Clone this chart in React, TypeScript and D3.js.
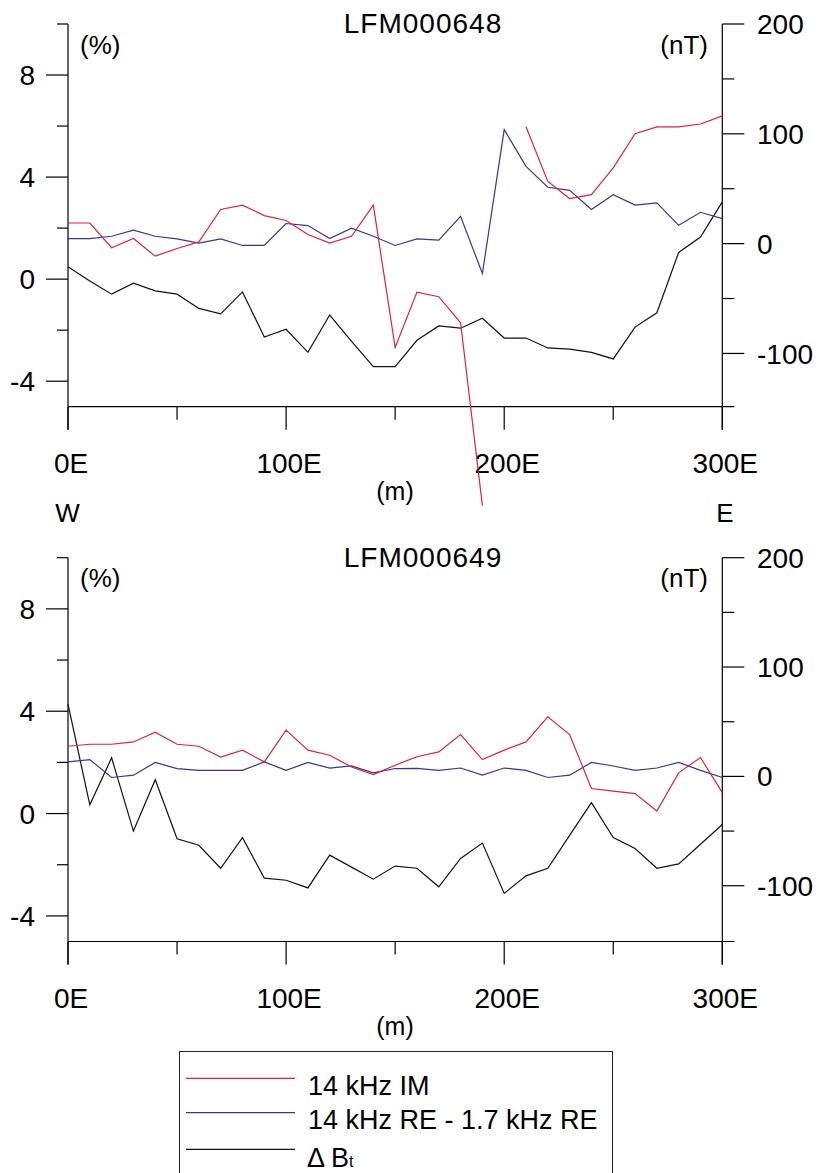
import React from "react";
import * as d3 from "d3";

// Station positions (m)
const stations = [0, 10, 20, 30, 40, 50, 60, 70, 80, 90, 100, 110, 120, 130, 140, 150, 160, 170, 180, 190, 200, 210, 220, 230, 240, 250, 260, 270, 280, 290, 300];

// LFM000648
const im648: (number | null)[] = [2.2, 2.2, 1.23, 1.59, 0.9, 1.2, 1.46, 2.73, 2.9, 2.49, 2.3, 1.75, 1.41, 1.68, 2.9, -2.68, -0.51, -0.69, -1.71, -8.88, null, 5.97, 3.83, 3.16, 3.31, 4.36, 5.7, 5.97, 5.97, 6.08, 6.4];
const re648 = [1.59, 1.59, 1.68, 1.92, 1.68, 1.58, 1.41, 1.58, 1.32, 1.32, 2.18, 2.1, 1.59, 2.0, 1.68, 1.32, 1.58, 1.53, 2.46, 0.22, 5.86, 4.42, 3.6, 3.48, 2.73, 3.31, 2.9, 2.99, 2.11, 2.62, 2.37];
const dbt648 = [-21, -34, -46, -36, -43, -46, -59, -64, -44, -85, -78, -99, -65, -89, -112, -112, -88, -75, -77, -68, -86, -86, -95, -96, -99, -105, -76, -63, -8, 6, 38];

// LFM000649
const im649: (number | null)[] = [2.63, 2.71, 2.71, 2.8, 3.18, 2.71, 2.63, 2.21, 2.48, 2.02, 3.26, 2.48, 2.28, 1.82, 1.52, 1.89, 2.22, 2.41, 3.09, 2.11, 2.48, 2.8, 3.78, 3.09, 0.98, 0.88, 0.78, 0.1, 1.59, 2.19, 0.82];
const re649 = [2.02, 2.11, 1.41, 1.5, 2.0, 1.76, 1.69, 1.69, 1.69, 2.02, 1.69, 2.0, 1.78, 1.86, 1.59, 1.76, 1.77, 1.69, 1.78, 1.5, 1.78, 1.69, 1.41, 1.5, 2.0, 1.86, 1.69, 1.78, 2.0, 1.69, 1.41];
const dbt649 = [66, -26, 17, -50, -3, -57, -63, -84, -56, -93, -95, -102, -72, -83, -94, -82, -84, -101, -75, -61, -107, -91, -84, -54, -24, -56, -66, -84, -80, -62, -44];

// Axis ticks
const leftMajor = [8, 4, 0, -4];
const leftMinor = [10, 6, 2, -2];
const rightMajor = [200, 100, 0, -100];
const rightMinor = [150, 50, -50];
const xMajor = [0, 100, 200, 300];
const xMinor = [50, 150, 250];
const xLabel = (v: number) => `${v}E`;

const legendItems = ["14 kHz IM", "14 kHz RE - 1.7 kHz RE", "ΔBt"];

const RED = "#d7263d";
const BLUE = "#3b3493";
const BLACK = "#111";
const FONT = "'Liberation Sans', Arial, sans-serif";

const W = 819;
const H = 1173;
const X0 = 68;
const X1 = 722.3;

type PanelProps = {
  title: string;
  top: number;
  bottom: number;
  rMin: number;
  im: (number | null)[];
  re: number[];
  dbt: number[];
  showWE: boolean;
};

function Panel({ title, top, bottom, rMin, im, re, dbt, showWE }: PanelProps) {
  const x = d3.scaleLinear().domain([0, 300]).range([X0, X1]);
  const yL = d3.scaleLinear().domain([-5, 10]).range([bottom, top]);
  const yR = d3.scaleLinear().domain([rMin, 200]).range([bottom, top]);

  const lineL = d3
    .line<number | null>()
    .defined((d) => d !== null)
    .x((_, i) => x(stations[i]))
    .y((d) => yL(d as number));
  const lineR = d3
    .line<number>()
    .x((_, i) => x(stations[i]))
    .y((d) => yR(d));

  const axisStroke = { stroke: "#000", strokeWidth: 1.2 };
  const MAJ = 22;
  const MIN = 11;
  const tickFont = 28;

  return (
    <g fontFamily={FONT}>
      {/* axis lines */}
      <line x1={X0} x2={X0} y1={top} y2={bottom + 23} {...axisStroke} />
      <line x1={X1} x2={X1} y1={top} y2={bottom + 23} {...axisStroke} />
      <line x1={X0} x2={X1 + 12} y1={bottom} y2={bottom} {...axisStroke} />

      {/* left ticks */}
      {leftMajor.map((v) => (
        <g key={"lM" + v}>
          <line x1={X0 - MAJ} x2={X0} y1={yL(v)} y2={yL(v)} {...axisStroke} />
          <text x={35} y={yL(v)} dy="0.36em" textAnchor="end" fontSize={tickFont}>
            {v}
          </text>
        </g>
      ))}
      {leftMinor.map((v) => (
        <line key={"lm" + v} x1={X0 - MIN} x2={X0} y1={yL(v)} y2={yL(v)} {...axisStroke} />
      ))}

      {/* right ticks */}
      {rightMajor.map((v) => (
        <g key={"rM" + v}>
          <line x1={X1} x2={X1 + MAJ} y1={yR(v)} y2={yR(v)} {...axisStroke} />
          <text x={757} y={yR(v)} dy="0.36em" textAnchor="start" fontSize={tickFont}>
            {v}
          </text>
        </g>
      ))}
      {rightMinor.map((v) => (
        <line key={"rm" + v} x1={X1} x2={X1 + 12} y1={yR(v)} y2={yR(v)} {...axisStroke} />
      ))}

      {/* bottom ticks */}
      {xMajor.map((v) => (
        <g key={"xM" + v}>
          <line x1={x(v)} x2={x(v)} y1={bottom} y2={bottom + 23} {...axisStroke} />
          <text x={x(v) + 3} y={bottom + 66} textAnchor="middle" fontSize={tickFont}>
            {xLabel(v)}
          </text>
        </g>
      ))}
      {xMinor.map((v) => (
        <line key={"xm" + v} x1={x(v)} x2={x(v)} y1={bottom} y2={bottom + 13} {...axisStroke} />
      ))}

      {/* titles and units */}
      <text x={423} y={top + 9} textAnchor="middle" fontSize={28} letterSpacing={1}>
        {title}
      </text>
      <text x={80} y={top + 29.5} fontSize={26}>
        (%)
      </text>
      <text x={708} y={top + 29.5} textAnchor="end" fontSize={26}>
        (nT)
      </text>
      <text x={395} y={bottom + 93} textAnchor="middle" fontSize={25}>
        (m)
      </text>
      {showWE && (
        <>
          <text x={67.5} y={bottom + 115} textAnchor="middle" fontSize={26}>
            W
          </text>
          <text x={725} y={bottom + 115} textAnchor="middle" fontSize={26}>
            E
          </text>
        </>
      )}

      {/* series */}
      <path d={lineR(dbt) || ""} fill="none" stroke={BLACK} strokeWidth={1.2} />
      <path d={lineL(re) || ""} fill="none" stroke={BLUE} strokeWidth={1.2} />
      <path d={lineL(im) || ""} fill="none" stroke={RED} strokeWidth={1.2} />
    </g>
  );
}

export default function App() {
  const legendColors = [RED, BLUE, BLACK];
  const legendY = [1078.3, 1112.7, 1149.3];
  return (
    <svg
      width={W}
      height={H}
      viewBox={`0 0 ${W} ${H}`}
      style={{ position: "absolute", left: 0, top: 0, background: "#fff" }}
    >
      <rect x={0} y={0} width={W} height={H} fill="#fff" />
      <Panel title="LFM000648" top={24} bottom={406.7} rMin={-148.5} im={im648} re={re648} dbt={dbt648} showWE={true} />
      <Panel title="LFM000649" top={557.7} bottom={941.5} rMin={-151} im={im649} re={re649} dbt={dbt649} showWE={false} />

      {/* legend */}
      <g fontFamily={FONT}>
        <rect x={179.5} y={1051.5} width={433} height={200} fill="none" stroke="#222" strokeWidth={1} />
        {legendItems.map((label, i) => (
          <g key={label}>
            <line x1={186} x2={295} y1={legendY[i]} y2={legendY[i]} stroke={legendColors[i]} strokeWidth={1.2} />
            {label === "ΔBt" ? (
              <text x={307} y={legendY[i] + 17.5} fontSize={27}>
                <tspan>Δ B</tspan>
                <tspan fontSize={16}>t</tspan>
              </text>
            ) : (
              <text x={308} y={legendY[i] + 16.5} fontSize={27}>
                {label}
              </text>
            )}
          </g>
        ))}
      </g>
    </svg>
  );
}
